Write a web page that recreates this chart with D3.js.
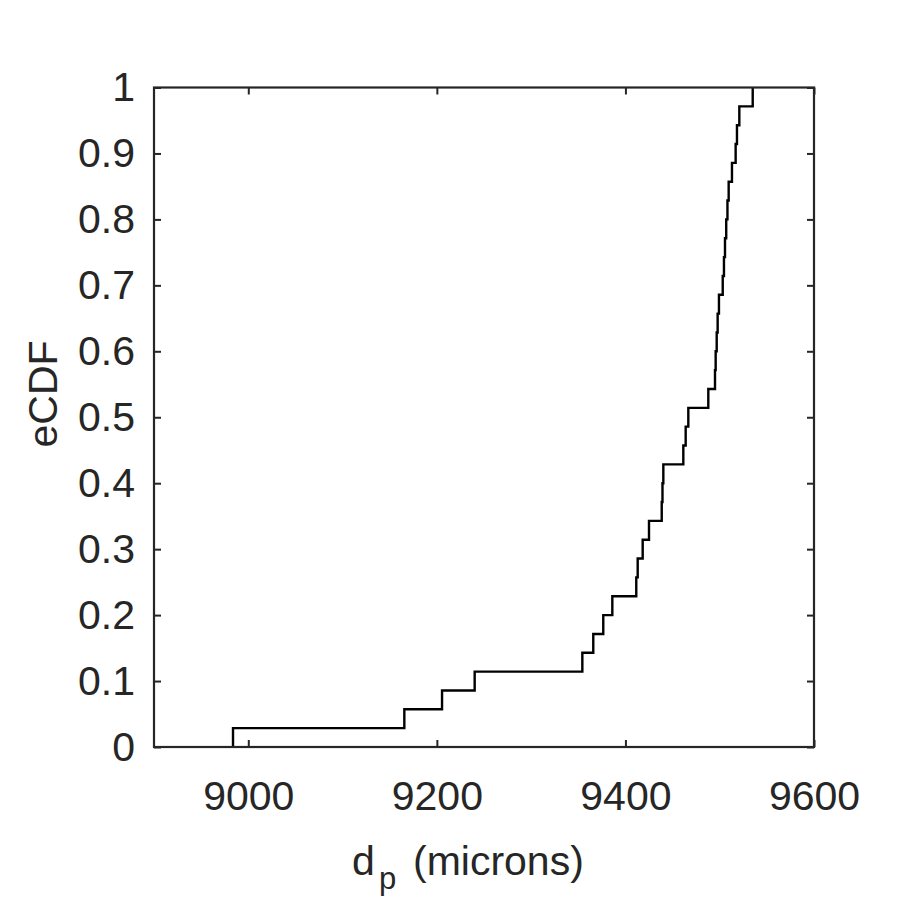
<!DOCTYPE html>
<html>
<head>
<meta charset="utf-8">
<script src="https://cdn.jsdelivr.net/npm/d3@7"></script>
<style>
  html, body { margin: 0; padding: 0; background: #fff; }
  svg { display: block; }
  text { font-family: "Liberation Sans", Arial, Helvetica, sans-serif; fill: #262626; }
</style>
</head>
<body>
<svg id="chart" width="900" height="900"></svg>
<script>
// Sorted sample values (microns), read from the step positions
const sampleValues = [
  8983.8, 9165.5, 9205.5, 9240.1, 9354.3, 9365.9, 9376.5, 9386.1,
  9411.5, 9413.0, 9418.3, 9425.0, 9438.5, 9439.3, 9440.2, 9461.4,
  9463.9, 9466.7, 9487.9, 9495.0, 9495.7, 9496.8, 9497.8, 9499.2,
  9503.2, 9504.5, 9505.6, 9506.9, 9508.2, 9509.5, 9513.0, 9516.9,
  9518.3, 9520.8, 9535.0
];
const xTicks = [9000, 9200, 9400, 9600];
const yTicks = [0, 0.1, 0.2, 0.3, 0.4, 0.5, 0.6, 0.7, 0.8, 0.9, 1];
const xDomain = [8900, 9600];
const yDomain = [0, 1];
const yLabel = "eCDF";

const svg = d3.select("#chart");
const L = 154, R = 814, T = 87.5, B = 747;

const x = d3.scaleLinear().domain(xDomain).range([L, R]);
const y = d3.scaleLinear().domain(yDomain).range([B, T]);

// ECDF step points
const n = sampleValues.length;
const pts = [[sampleValues[0], 0]];
sampleValues.forEach((v, i) => pts.push([v, (i + 1) / n]));

const line = d3.line().x(d => x(d[0])).y(d => y(d[1])).curve(d3.curveStepAfter);

svg.append("path")
  .datum(pts)
  .attr("fill", "none")
  .attr("stroke", "#000")
  .attr("stroke-width", 2.4)
  .attr("d", line);

const axisColor = "#262626";
const tickLen = 7;
const fontSize = 41;

// bottom axis
const xb = svg.append("g").attr("transform", `translate(0,${B})`)
  .call(d3.axisBottom(x).tickValues(xTicks).tickSizeInner(-tickLen).tickSizeOuter(0).tickPadding(0).tickFormat(d3.format("d")));
xb.selectAll(".tick text").attr("dy", null).attr("y", 63);
// top axis (ticks only)
const xt = svg.append("g").attr("transform", `translate(0,${T})`)
  .call(d3.axisTop(x).tickValues(xTicks).tickSizeInner(-tickLen).tickSizeOuter(0).tickFormat(""));
// left axis
const yl = svg.append("g").attr("transform", `translate(${L},0)`)
  .call(d3.axisLeft(y).tickValues(yTicks).tickSizeInner(-tickLen).tickSizeOuter(0).tickPadding(19).tickFormat(d => d === 0 ? "0" : d === 1 ? "1" : d3.format(".1f")(d)));
// right axis (ticks only)
const yr = svg.append("g").attr("transform", `translate(${R},0)`)
  .call(d3.axisRight(y).tickValues(yTicks).tickSizeInner(-tickLen).tickSizeOuter(0).tickFormat(""));

[xb, xt, yl, yr].forEach(g => {
  g.select(".domain").remove();
  g.selectAll(".tick line").attr("stroke", axisColor).attr("stroke-width", 2);
  g.selectAll(".tick text")
    .attr("fill", axisColor)
    .style("font-size", fontSize + "px")
    .style("font-family", "'Liberation Sans', Arial, sans-serif");
});

// box
svg.append("rect")
  .attr("x", L).attr("y", T).attr("width", R - L).attr("height", B - T)
  .attr("fill", "none").attr("stroke", axisColor).attr("stroke-width", 2.2);

// x label with subscript
const xl = svg.append("text")
  .attr("y", 875)
  .style("font-size", fontSize + "px");
xl.append("tspan").attr("x", 352).text("d");
xl.append("tspan").attr("x", 379).attr("dy", 14).style("font-size", "31px").text("p");
xl.append("tspan").attr("x", 413).attr("dy", -14).text("(microns)");

// y label
svg.append("text")
  .attr("transform", `translate(57,${394}) rotate(-90)`)
  .attr("text-anchor", "middle")
  .style("font-size", fontSize + "px")
  .text(yLabel);
</script>
</body>
</html>
